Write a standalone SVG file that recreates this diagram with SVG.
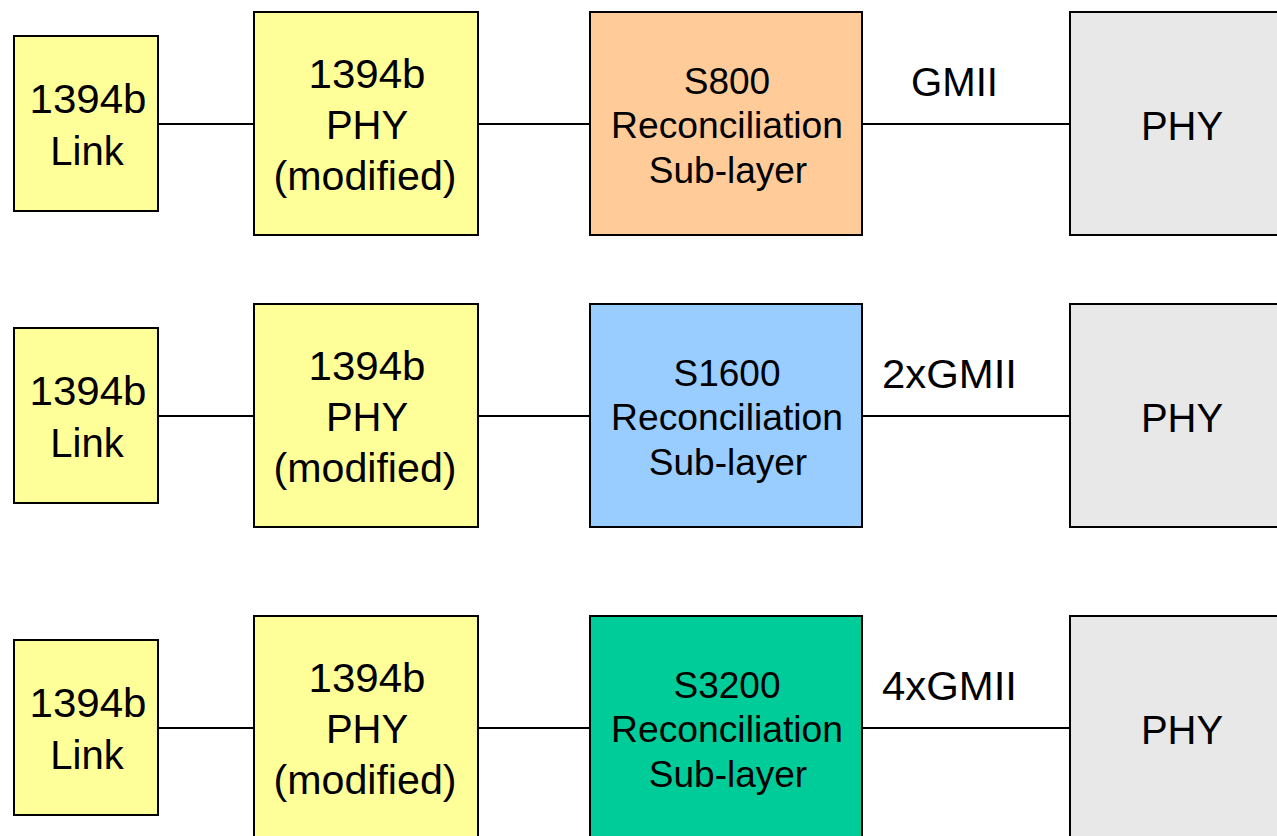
<svg xmlns="http://www.w3.org/2000/svg" width="1277" height="836" viewBox="0 0 1277 836">
<style>
.box{stroke:#000;stroke-width:2}
.y{fill:#FFFF99}.o{fill:#FFCC99}.b{fill:#99CCFF}.g{fill:#00CC99}.p{fill:#E8E8E8}
text{font-family:"Liberation Sans",Arial,sans-serif;fill:#000;text-anchor:middle}
.t40{font-size:40px}.t37{font-size:37px}
.lbl{text-anchor:start}
.conn{stroke:#000;stroke-width:2;fill:none}
</style>
<rect width="1277" height="836" fill="#fff"/>
<g id="connectors">
<path class="conn" d="M158 124H254M478 124H590M862 124H1070"/>
<path class="conn" d="M158 416H254M478 416H590M862 416H1070"/>
<path class="conn" d="M158 728H254M478 728H590M862 728H1070"/>
</g>
<g id="row1">
<g id="link1"><rect class="box y" x="14" y="36" width="144" height="175"/><text class="t40" x="88" y="113" textLength="117" lengthAdjust="spacingAndGlyphs">1394b</text><text class="t40" x="87" y="165">Link</text></g>
<g id="phymod1"><rect class="box y" x="254" y="12" width="224" height="223"/><text class="t40" x="367" y="88" textLength="117" lengthAdjust="spacingAndGlyphs">1394b</text><text class="t40" x="367" y="139">PHY</text><text class="t40" x="365" y="190" textLength="183" lengthAdjust="spacingAndGlyphs">(modified)</text></g>
<g id="rs1"><rect class="box o" x="590" y="12" width="272" height="223"/><text class="t37" x="727" y="94">S800</text><text class="t37" x="727" y="138" textLength="232" lengthAdjust="spacingAndGlyphs">Reconciliation</text><text class="t37" x="728" y="183">Sub-layer</text></g>
<g id="gmii1"><text class="t40 lbl" x="911" y="96" textLength="87" lengthAdjust="spacingAndGlyphs">GMII</text></g>
<g id="phy1"><rect class="box p" x="1070" y="12" width="215" height="223"/><text class="t40" x="1182" y="140">PHY</text></g>
</g>
<g id="row2" transform="translate(0,292)">
<g id="link2"><rect class="box y" x="14" y="36" width="144" height="175"/><text class="t40" x="88" y="113" textLength="117" lengthAdjust="spacingAndGlyphs">1394b</text><text class="t40" x="87" y="165">Link</text></g>
<g id="phymod2"><rect class="box y" x="254" y="12" width="224" height="223"/><text class="t40" x="367" y="88" textLength="117" lengthAdjust="spacingAndGlyphs">1394b</text><text class="t40" x="367" y="139">PHY</text><text class="t40" x="365" y="190" textLength="183" lengthAdjust="spacingAndGlyphs">(modified)</text></g>
<g id="rs2"><rect class="box b" x="590" y="12" width="272" height="223"/><text class="t37" x="727" y="94">S1600</text><text class="t37" x="727" y="138" textLength="232" lengthAdjust="spacingAndGlyphs">Reconciliation</text><text class="t37" x="728" y="183">Sub-layer</text></g>
<g id="gmii2"><text class="t40 lbl" x="882" y="96" textLength="135" lengthAdjust="spacingAndGlyphs">2xGMII</text></g>
<g id="phy2"><rect class="box p" x="1070" y="12" width="215" height="223"/><text class="t40" x="1182" y="140">PHY</text></g>
</g>
<g id="row3" transform="translate(0,604)">
<g id="link3"><rect class="box y" x="14" y="36" width="144" height="175"/><text class="t40" x="88" y="113" textLength="117" lengthAdjust="spacingAndGlyphs">1394b</text><text class="t40" x="87" y="165">Link</text></g>
<g id="phymod3"><rect class="box y" x="254" y="12" width="224" height="240"/><text class="t40" x="367" y="88" textLength="117" lengthAdjust="spacingAndGlyphs">1394b</text><text class="t40" x="367" y="139">PHY</text><text class="t40" x="365" y="190" textLength="183" lengthAdjust="spacingAndGlyphs">(modified)</text></g>
<g id="rs3"><rect class="box g" x="590" y="12" width="272" height="240"/><text class="t37" x="727" y="94">S3200</text><text class="t37" x="727" y="138" textLength="232" lengthAdjust="spacingAndGlyphs">Reconciliation</text><text class="t37" x="728" y="183">Sub-layer</text></g>
<g id="gmii3"><text class="t40 lbl" x="882" y="96" textLength="135" lengthAdjust="spacingAndGlyphs">4xGMII</text></g>
<g id="phy3"><rect class="box p" x="1070" y="12" width="215" height="240"/><text class="t40" x="1182" y="140">PHY</text></g>
</g>
</svg>
